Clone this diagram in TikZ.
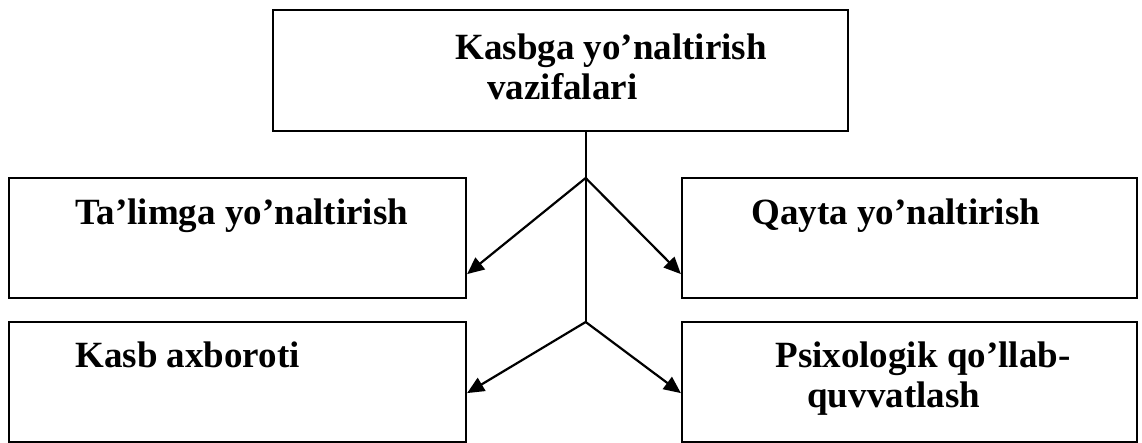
\documentclass[tikz,border=0pt]{standalone}
\usepackage{fontspec}
\setmainfont{Liberation Serif}
\usetikzlibrary{arrows.meta,calc,positioning}

\begin{document}
\begin{tikzpicture}[x=0.5pt,y=-0.5pt,>={Triangle[length=8.5pt,width=7.5pt]},
  box/.style={draw,line width=1.1pt,inner sep=0pt,minimum height=60pt},
  lbl/.style={anchor=base west,inner sep=0pt,align=left,font=\fontsize{18.5}{20}\selectfont\bfseries},
  link/.style={line width=1.1pt}]
\useasboundingbox (0,0) rectangle (1142,443);
% boxes
\node[box,minimum width=287.5pt,minimum height=60.5pt] (vazifa) at (560.5,70.5) {};
\node[box,minimum width=228.5pt] (talim) at (237.5,238) {};
\node[box,minimum width=228.5pt] (axborot) at (237.5,382) {};
\node[box,minimum width=227.5pt] (qayta) at (909.5,238) {};
\node[box,minimum width=227.5pt] (psixo) at (909.5,382) {};
% texts (base = last line)
\node[lbl] (vazifaT) at (455,100) {Kasbga yo’naltirish\\\hspace*{16pt}vazifalari};
\node[lbl] (talimT) at (75,225) {Ta’limga yo’naltirish};
\node[lbl] (axborotT) at (75,368) {Kasb axboroti};
\node[lbl] (qaytaT) at (751,225) {Qayta yo’naltirish};
\node[lbl] (psixoT) at (775,408) {Psixologik qo’llab-\\\hspace*{16pt}quvvatlash};
% connectors
\coordinate (stem) at (585.7,131);
\coordinate (j1) at (585.7,178);
\coordinate (j2) at (585.7,322);
\draw[link] (stem)--(j2);
\draw[link,->] (j1)--([yshift=12.5pt]talim.south east);
\draw[link,->] (j1)--([yshift=12.5pt]qayta.south west);
\draw[link,->] (j2)--([yshift=25pt]axborot.south east);
\draw[link,->] (j2)--([yshift=25pt]psixo.south west);
\end{tikzpicture}
\end{document}
